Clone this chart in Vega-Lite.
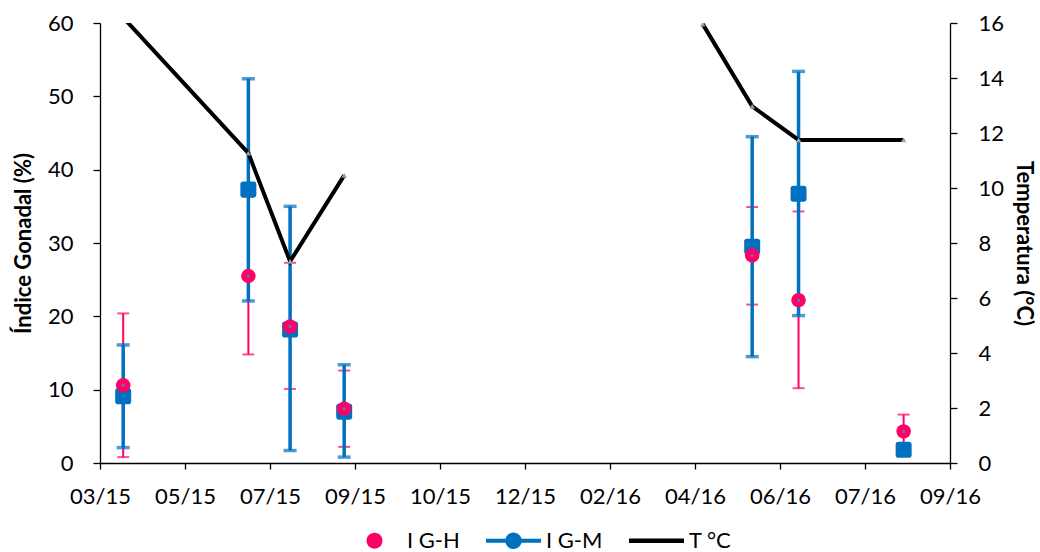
{
  "$schema": "https://vega.github.io/schema/vega-lite/v6.json",
  "width": 850,
  "height": 440,
  "autosize": {"type": "none"},
  "padding": {"left": 100, "top": 23, "right": 90, "bottom": 89},
  "background": "#ffffff",
  "config": {
    "view": {"stroke": null},
    "axis": {
      "labelFont": "Lato",
      "labelFontSize": 22,
      "labelColor": "#000000",
      "titleFont": "Lato",
      "titleFontSize": 22,
      "titleFontWeight": "bold",
      "titleColor": "#000000",
      "domainColor": "#000000",
      "domainWidth": 1.3,
      "tickColor": "#000000",
      "tickWidth": 1.3,
      "grid": false
    }
  },
  "datasets": {
    "ig": [
      {"date": "2015/04/04", "series": "I G-H", "value": 10.6, "low": 0.8, "high": 20.4},
      {"date": "2015/06/24", "series": "I G-H", "value": 25.5, "low": 14.8, "high": 36.3},
      {"date": "2015/07/21", "series": "I G-H", "value": 18.6, "low": 10.1, "high": 27.3},
      {"date": "2015/08/25", "series": "I G-H", "value": 7.4, "low": 2.2, "high": 12.6},
      {"date": "2016/05/15", "series": "I G-H", "value": 28.3, "low": 21.6, "high": 34.9},
      {"date": "2016/06/14", "series": "I G-H", "value": 22.2, "low": 10.2, "high": 34.3},
      {"date": "2016/08/21", "series": "I G-H", "value": 4.3, "low": 2.0, "high": 6.6},
      {"date": "2015/04/04", "series": "I G-M", "value": 9.1, "low": 2.1, "high": 16.1},
      {"date": "2015/06/24", "series": "I G-M", "value": 37.3, "low": 22.1, "high": 52.4},
      {"date": "2015/07/21", "series": "I G-M", "value": 18.2, "low": 1.7, "high": 35.0},
      {"date": "2015/08/25", "series": "I G-M", "value": 7.0, "low": 0.8, "high": 13.4},
      {"date": "2016/05/15", "series": "I G-M", "value": 29.5, "low": 14.5, "high": 44.5},
      {"date": "2016/06/14", "series": "I G-M", "value": 36.7, "low": 20.1, "high": 53.4},
      {"date": "2016/08/21", "series": "I G-M", "value": 1.8, "low": 1.4, "high": 2.2}
    ],
    "t": [
      {"date": "2015/04/04", "seg": 1, "temp": 16.2},
      {"date": "2015/06/24", "seg": 1, "temp": 11.27},
      {"date": "2015/07/21", "seg": 1, "temp": 7.33},
      {"date": "2015/08/25", "seg": 1, "temp": 10.46},
      {"date": "2016/04/13", "seg": 2, "temp": 15.96},
      {"date": "2016/05/15", "seg": 2, "temp": 12.97},
      {"date": "2016/06/14", "seg": 2, "temp": 11.75},
      {"date": "2016/08/21", "seg": 2, "temp": 11.75}
    ]
  },
  "layer": [
    {
      "data": {"name": "ig"},
      "encoding": {
        "x": {
          "field": "date",
          "type": "temporal",
          "scale": {"domain": [{"year": 2015, "month": 3, "date": 20}, {"year": 2016, "month": 9, "date": 20}]},
          "axis": {
            "title": null,
            "format": "%m/%y",
            "values": [
              {"year": 2015, "month": 3, "date": 20},
              {"year": 2015, "month": 5, "date": 14},
              {"year": 2015, "month": 7, "date": 8},
              {"year": 2015, "month": 9, "date": 1},
              {"year": 2015, "month": 10, "date": 26},
              {"year": 2015, "month": 12, "date": 20},
              {"year": 2016, "month": 2, "date": 13},
              {"year": 2016, "month": 4, "date": 8},
              {"year": 2016, "month": 6, "date": 2},
              {"year": 2016, "month": 7, "date": 27},
              {"year": 2016, "month": 9, "date": 20}
            ],
            "tickSize": 6,
            "labelPadding": 17,
            "labelFlush": false,
            "labelOverlap": false
          }
        }
      },
      "layer": [
        {
          "transform": [{"filter": "datum.series === 'I G-H'"}],
          "mark": {"type": "rule", "color": "#FF0066", "strokeWidth": 2},
          "encoding": {
            "y": {
              "field": "low",
              "type": "quantitative",
              "scale": {"domain": [0, 60], "nice": false},
              "axis": {"orient": "left", "title": "Índice Gonadal (%)", "values": [0, 10, 20, 30, 40, 50, 60], "tickSize": 7, "labelPadding": 20, "titlePadding": 12}
            },
            "y2": {"field": "high"}
          }
        },
        {
          "transform": [{"filter": "datum.series === 'I G-H'"}],
          "mark": {"type": "tick", "orient": "horizontal", "color": "#FF0066", "size": 12, "thickness": 2},
          "encoding": {"y": {"field": "low", "type": "quantitative", "axis": {"orient": "left", "title": "Índice Gonadal (%)", "values": [0, 10, 20, 30, 40, 50, 60], "tickSize": 7, "labelPadding": 20, "titlePadding": 12}}}
        },
        {
          "transform": [{"filter": "datum.series === 'I G-H'"}],
          "mark": {"type": "tick", "orient": "horizontal", "color": "#FF0066", "size": 12, "thickness": 2},
          "encoding": {"y": {"field": "high", "type": "quantitative", "axis": {"orient": "left", "title": "Índice Gonadal (%)", "values": [0, 10, 20, 30, 40, 50, 60], "tickSize": 7, "labelPadding": 20, "titlePadding": 12}}}
        },
        {
          "transform": [{"filter": "datum.series === 'I G-M'"}],
          "mark": {"type": "rule", "color": "#0070C0", "strokeWidth": 3.5},
          "encoding": {
            "y": {"field": "low", "type": "quantitative", "axis": {"orient": "left", "title": "Índice Gonadal (%)", "values": [0, 10, 20, 30, 40, 50, 60], "tickSize": 7, "labelPadding": 20, "titlePadding": 12}},
            "y2": {"field": "high"}
          }
        },
        {
          "transform": [{"filter": "datum.series === 'I G-M'"}],
          "mark": {"type": "tick", "orient": "horizontal", "color": "#0070C0", "size": 13, "thickness": 3.5},
          "encoding": {"y": {"field": "low", "type": "quantitative", "axis": {"orient": "left", "title": "Índice Gonadal (%)", "values": [0, 10, 20, 30, 40, 50, 60], "tickSize": 7, "labelPadding": 20, "titlePadding": 12}}}
        },
        {
          "transform": [{"filter": "datum.series === 'I G-M'"}],
          "mark": {"type": "tick", "orient": "horizontal", "color": "#0070C0", "size": 13, "thickness": 3.5},
          "encoding": {"y": {"field": "high", "type": "quantitative", "axis": {"orient": "left", "title": "Índice Gonadal (%)", "values": [0, 10, 20, 30, 40, 50, 60], "tickSize": 7, "labelPadding": 20, "titlePadding": 12}}}
        },
        {
          "transform": [{"filter": "datum.series === 'I G-M'"}],
          "mark": {
            "type": "point",
            "filled": true,
            "color": "#0070C0",
            "opacity": 1,
            "size": 256,
            "shape": "M -0.65 -1 L 0.65 -1 Q 1 -1 1 -0.65 L 1 0.65 Q 1 1 0.65 1 L -0.65 1 Q -1 1 -1 0.65 L -1 -0.65 Q -1 -1 -0.65 -1 Z"
          },
          "encoding": {"y": {"field": "value", "type": "quantitative", "axis": {"orient": "left", "title": "Índice Gonadal (%)", "values": [0, 10, 20, 30, 40, 50, 60], "tickSize": 7, "labelPadding": 20, "titlePadding": 12}}}
        },
        {
          "transform": [{"filter": "datum.series === 'I G-H'"}],
          "mark": {"type": "point", "filled": true, "color": "#FF0066", "opacity": 1, "size": 210, "shape": "circle"},
          "encoding": {"y": {"field": "value", "type": "quantitative", "axis": {"orient": "left", "title": "Índice Gonadal (%)", "values": [0, 10, 20, 30, 40, 50, 60], "tickSize": 7, "labelPadding": 20, "titlePadding": 12}}}
        },
        {
          "transform": [{"filter": "datum.series === 'I G-H'"}],
          "mark": {"type": "point", "filled": true, "color": "#4F81BD", "opacity": 1, "size": 9, "shape": "circle"},
          "encoding": {"y": {"field": "value", "type": "quantitative", "axis": {"orient": "left", "title": "Índice Gonadal (%)", "values": [0, 10, 20, 30, 40, 50, 60], "tickSize": 7, "labelPadding": 20, "titlePadding": 12}}}
        }
      ]
    },
    {
      "data": {"name": "t"},
      "encoding": {
        "x": {
          "field": "date",
          "type": "temporal",
          "axis": {
            "title": null,
            "format": "%m/%y",
            "values": [
              {"year": 2015, "month": 3, "date": 20},
              {"year": 2015, "month": 5, "date": 14},
              {"year": 2015, "month": 7, "date": 8},
              {"year": 2015, "month": 9, "date": 1},
              {"year": 2015, "month": 10, "date": 26},
              {"year": 2015, "month": 12, "date": 20},
              {"year": 2016, "month": 2, "date": 13},
              {"year": 2016, "month": 4, "date": 8},
              {"year": 2016, "month": 6, "date": 2},
              {"year": 2016, "month": 7, "date": 27},
              {"year": 2016, "month": 9, "date": 20}
            ],
            "tickSize": 6,
            "labelPadding": 17,
            "labelFlush": false,
            "labelOverlap": false
          }
        },
        "y": {
          "field": "temp",
          "type": "quantitative",
          "scale": {"domain": [0, 16], "nice": false},
          "axis": {
            "orient": "right",
            "title": "Temperatura (°C)",
            "values": [0, 2, 4, 6, 8, 10, 12, 14, 16],
            "tickSize": 7,
            "labelPadding": 21,
            "titlePadding": 8
          }
        }
      },
      "layer": [
        {
          "mark": {"type": "line", "color": "#000000", "strokeWidth": 4, "clip": true},
          "encoding": {"detail": {"field": "seg", "type": "nominal"}}
        },
        {
          "mark": {"type": "point", "shape": "triangle-up", "filled": true, "color": "#A0A0A0", "opacity": 1, "size": 30, "clip": true},
          "encoding": {"detail": {"field": "seg", "type": "nominal"}}
        }
      ]
    },
    {
      "data": {"name": "ig"},
      "mark": {"type": "point", "filled": true, "opacity": 1, "strokeWidth": 0, "clip": true},
      "encoding": {
        "x": {
          "datum": {"year": 2014, "month": 1, "date": 1},
          "type": "temporal",
          "axis": {
            "title": null,
            "format": "%m/%y",
            "values": [
              {"year": 2015, "month": 3, "date": 20},
              {"year": 2015, "month": 5, "date": 14},
              {"year": 2015, "month": 7, "date": 8},
              {"year": 2015, "month": 9, "date": 1},
              {"year": 2015, "month": 10, "date": 26},
              {"year": 2015, "month": 12, "date": 20},
              {"year": 2016, "month": 2, "date": 13},
              {"year": 2016, "month": 4, "date": 8},
              {"year": 2016, "month": 6, "date": 2},
              {"year": 2016, "month": 7, "date": 27},
              {"year": 2016, "month": 9, "date": 20}
            ],
            "tickSize": 6,
            "labelPadding": 17,
            "labelFlush": false,
            "labelOverlap": false
          }
        },
        "color": {
          "field": "series",
          "type": "nominal",
          "scale": {"domain": ["I G-H", "I G-M", "T °C"], "range": ["#FF0066", "#0070C0", "#000000"]},
          "legend": {
            "title": null,
            "orient": "none",
            "direction": "horizontal",
            "legendX": 247,
            "legendY": 490,
            "symbolSize": 3025,
            "symbolStrokeWidth": 0,
            "symbolOpacity": 1,
            "labelFont": "Lato",
            "labelFontSize": 22,
            "labelColor": "#000000",
            "labelOffset": 5,
            "labelLimit": 300,
            "columnPadding": 26,
            "padding": 0
          }
        },
        "shape": {
          "field": "series",
          "type": "nominal",
          "scale": {
            "domain": ["I G-H", "I G-M", "T °C"],
            "range": [
              "M -0.29 0 A 0.29 0.29 0 1 1 0.29 0 A 0.29 0.29 0 1 1 -0.29 0 Z",
              "M -1 -0.075 L 1 -0.075 L 1 0.075 L -1 0.075 Z M -0.3 0 A 0.3 0.3 0 1 1 0.3 0 A 0.3 0.3 0 1 1 -0.3 0 Z",
              "M -1 -0.08 L 1 -0.08 L 1 0.08 L -1 0.08 Z"
            ]
          }
        }
      }
    }
  ],
  "resolve": {"scale": {"y": "independent"}}
}
